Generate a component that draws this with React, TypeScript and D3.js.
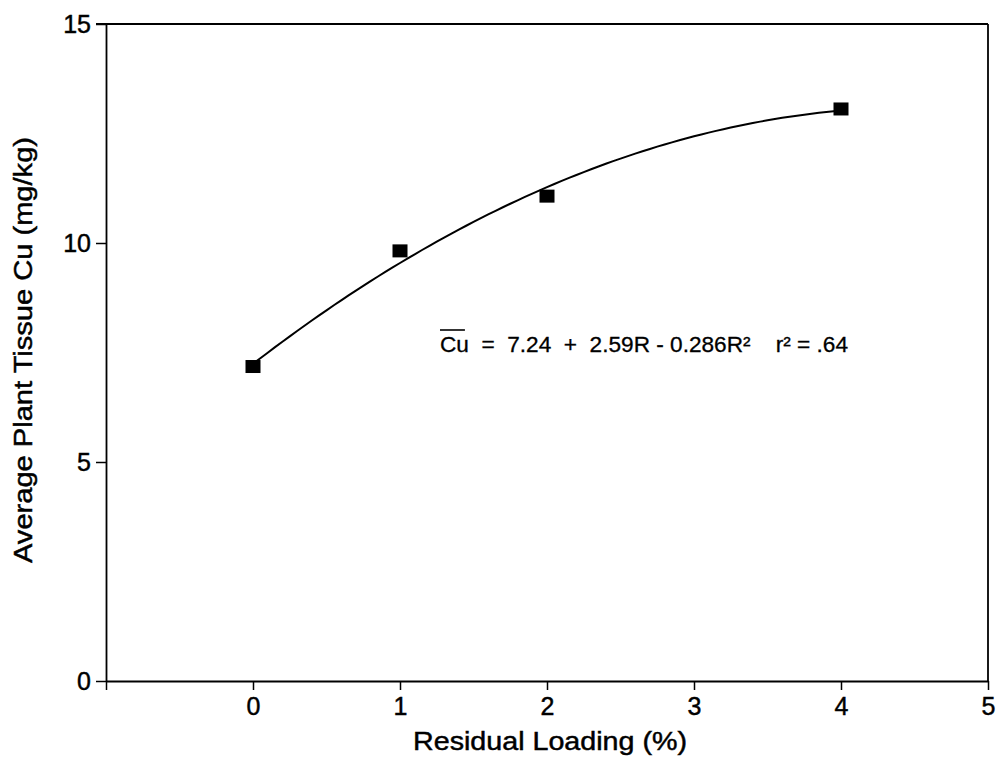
import React, { useEffect, useRef } from "react";
import * as d3 from "d3";

// Measured plant tissue copper at each residual loading rate
const loadings = [0, 1, 2, 4];
const tissueCu = [7.18, 9.82, 11.07, 13.06];

// Quadratic fit: Cu = b0 + b1*R + b2*R^2
const fitCoefficients = [7.24, 2.59, -0.286];
const fitR2 = ".64";
const fitSamples = d3.range(0, 4.0001, 0.05);

const xTicks = [-1, 0, 1, 2, 3, 4, 5];
const yTicks = [0, 5, 10, 15];

const W = 1004;
const H = 763;
const FONT = "'Liberation Sans', Arial, Helvetica, sans-serif";
const TEXT_STROKE = 0.45;

export default function App() {
  const ref = useRef<SVGSVGElement | null>(null);

  useEffect(() => {
    const svg = d3.select(ref.current);
    svg.selectAll("*").remove();

    const x = d3.scaleLinear().domain([-1, 5]).range([106, 988]);
    const y = d3.scaleLinear().domain([0, 15]).range([681, 24]);

    // frame (top and right)
    svg.append("line")
      .attr("x1", x(-1) - 10).attr("x2", x(5)).attr("y1", y(15)).attr("y2", y(15))
      .attr("stroke", "#000").attr("stroke-width", 1.8);
    svg.append("line")
      .attr("x1", x(5)).attr("x2", x(5)).attr("y1", y(15)).attr("y2", y(0))
      .attr("stroke", "#000").attr("stroke-width", 1.8);

    const xAxis = svg.append("g")
      .attr("transform", `translate(0,${y(0)})`)
      .call(
        d3.axisBottom(x)
          .tickValues(xTicks)
          .tickSize(9)
          .tickSizeOuter(0)
          .tickPadding(7)
          .tickFormat((d) => (+d < 0 ? "" : d3.format("d")(+d)))
      );
    xAxis.select(".domain").attr("stroke-width", 2);
    xAxis.selectAll(".tick line").attr("stroke-width", 1.5);
    xAxis.selectAll("text")
      .attr("font-family", FONT).attr("font-size", 25).attr("fill", "#000")
      .attr("stroke", "#000").attr("stroke-width", TEXT_STROKE);

    const yAxis = svg.append("g")
      .attr("transform", `translate(${x(-1)},0)`)
      .call(
        d3.axisLeft(y)
          .tickValues(yTicks)
          .tickSize(10)
          .tickSizeOuter(0)
          .tickPadding(5)
          .tickFormat(d3.format("d"))
      );
    yAxis.select(".domain").attr("stroke-width", 1.8);
    yAxis.selectAll(".tick line").attr("stroke-width", 1.5);
    yAxis.selectAll("text")
      .attr("font-family", FONT).attr("font-size", 25).attr("fill", "#000")
      .attr("stroke", "#000").attr("stroke-width", TEXT_STROKE);

    // axis titles
    svg.append("text")
      .attr("x", 413).attr("y", 750)
      .attr("font-family", FONT).attr("font-size", 25)
      .attr("stroke", "#000").attr("stroke-width", TEXT_STROKE)
      .attr("textLength", 274).attr("lengthAdjust", "spacingAndGlyphs")
      .text("Residual Loading (%)");
    svg.append("text")
      .attr("transform", `translate(32,563) rotate(-90)`)
      .attr("font-family", FONT).attr("font-size", 25)
      .attr("stroke", "#000").attr("stroke-width", TEXT_STROKE)
      .attr("textLength", 426).attr("lengthAdjust", "spacingAndGlyphs")
      .text("Average Plant Tissue Cu (mg/kg)");

    // fitted curve
    const [b0, b1, b2] = fitCoefficients;
    const line = d3.line<number>()
      .x((r) => x(r))
      .y((r) => y(b0 + b1 * r + b2 * r * r))
      .curve(d3.curveBasis);
    svg.append("path")
      .datum(fitSamples)
      .attr("d", line)
      .attr("fill", "none")
      .attr("stroke", "#000")
      .attr("stroke-width", 2);

    // observed points
    const mw = 15, mh = 13;
    svg.append("g").selectAll("rect")
      .data(loadings.map((r, i) => [r, tissueCu[i]]))
      .join("rect")
      .attr("x", (d) => x(d[0]) - mw / 2)
      .attr("y", (d) => y(d[1]) - mh / 2)
      .attr("width", mw).attr("height", mh)
      .attr("fill", "#000");

    // regression equation
    const eq = svg.append("text")
      .attr("x", 440).attr("y", 352)
      .attr("font-family", FONT).attr("font-size", 22)
      .attr("stroke", "#000").attr("stroke-width", 0.3)
      .attr("textLength", 408).attr("lengthAdjust", "spacingAndGlyphs")
      .style("white-space", "pre");
    eq.append("tspan").text("Cu");
    eq.append("tspan").text(`  =  ${b0}  +  ${b1}R - ${-b2}R²    r² = ${fitR2}`);
    const cuBox = (eq.select("tspan").node() as SVGTSpanElement).getBBox();
    svg.append("line")
      .attr("x1", cuBox.x).attr("x2", cuBox.x + cuBox.width - 4)
      .attr("y1", 330).attr("y2", 330)
      .attr("stroke", "#000").attr("stroke-width", 1.6);
  }, []);

  return (
    <svg
      ref={ref}
      width={W}
      height={H}
      style={{ position: "absolute", left: 0, top: 0, background: "#fff" }}
    />
  );
}
